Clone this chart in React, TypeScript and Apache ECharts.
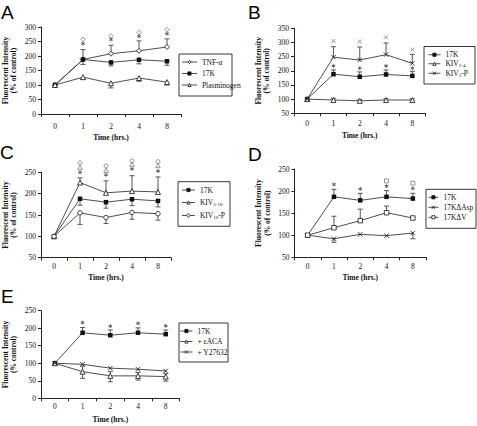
import React, { useEffect, useRef } from 'react';
import * as echarts from 'echarts';

type Num = number | null;

const hours = ['0', '1', '2', '4', '8'];

// Panel A
const aTNF = [100, 188, 208, 218, 231];
const aTNFHi: Num[] = [null, 222, 237, 252, 259];
const a17K = [100, 188, 178, 187, 182];
const a17KLo: Num[] = [null, 171, 166, 173, 168];
const aPlg = [100, 127, 106, 124, 110];
const aPlgLo: Num[] = [null, 120, 90, 113, 100];
const aSigDiamond: Num[] = [null, 258, 269, 281, 291];
const aSigStar: Num[] = [null, 243, 257, 268, 277];

// Panel B
const b17K = [100, 188, 179, 187, 182];
const b17KHi: Num[] = [null, 203, 196, 203, 198];
const bKIV14 = [100, 97, 94, 97, 97];
const bKIV14Hi: Num[] = [null, 103, 98, 101, 101];
const bKIV5P = [100, 248, 238, 257, 226];
const bKIV5PHi: Num[] = [null, 285, 284, 298, 258];
const bSigX: Num[] = [null, 305, 303, 318, 275];
const bSigStar: Num[] = [null, 217, 209, 217, 209];

// Panel C
const c17K = [100, 188, 180, 187, 183];
const c17KLo: Num[] = [null, 173, 166, 172, 169];
const cKIV510 = [100, 226, 202, 206, 204];
const cKIV510Hi: Num[] = [null, 237, 230, 242, 239];
const cKIV10P = [100, 155, 144, 156, 153];
const cKIV10PLo: Num[] = [null, 128, 130, 140, 138];
const cSigCircle: Num[] = [null, 272, 265, 277, 275];
const cSigTri: Num[] = [null, 262, 255, 269, 266];
const cSigStar: Num[] = [null, 250, 244, 258, 253];

// Panel D
const d17K = [100, 187, 179, 187, 183];
const d17KHi: Num[] = [null, 204, 195, 201, 195];
const dAsp = [100, 92, 102, 99, 105];
const dAspLo: Num[] = [null, 84, null, null, 92];
const dV = [100, 117, 133, 151, 139];
const dVHi: Num[] = [null, 143, 159, 166, null];
const dSigStar: Num[] = [null, 215, 205, 211, 206];
const dSigSquare: Num[] = [null, null, null, 223, 218];

// Panel E
const e17K = [100, 187, 180, 187, 183];
const e17KHi: Num[] = [null, 202, 195, 201, 195];
const eACA = [100, 76, 64, 64, 62];
const eACAHi: Num[] = [null, 92, 76, 74, 70];
const eACALo: Num[] = [null, 57, 47, 52, 49];
const eY = [100, 97, 86, 83, 78];
const eSigStar: Num[] = [null, 216, 206, 214, 207];

const SERIF = '"Liberation Serif", "Times New Roman", serif';
const SANS = '"Liberation Sans", Arial, sans-serif';
const INK = '#111';
const LINE = '#3a3a3a';

const STAR = 'path://M4,0H6V3.3L8.9,1.6 9.9,3.3 7,5 9.9,6.7 8.9,8.4 6,6.7V10H4V6.7L1.1,8.4 0.1,6.7 3,5 0.1,3.3 1.1,1.6 4,3.3Z';
const CROSS = 'path://M0,0L10,10M10,0L0,10';

type Mark = { symbol: string; size: number; filled: boolean };
const M: Record<string, Mark> = {
  fsq: { symbol: 'rect', size: 4.5, filled: true },
  tri: { symbol: 'triangle', size: 5, filled: false },
  dia: { symbol: 'diamond', size: 5, filled: false },
  cir: { symbol: 'circle', size: 4.5, filled: false },
  sq: { symbol: 'rect', size: 4.5, filled: false },
  x: { symbol: CROSS, size: 4.5, filled: false },
  star: { symbol: STAR, size: 4.5, filled: true },
};

const pts = (vals: Num[]) =>
  vals.map((v, i) => (v == null ? null : [i, v])).filter((d) => d !== null);
const errPts = (center: number[], ends: Num[]) =>
  ends.map((e, i) => (e == null ? null : [i, center[i], e])).filter((d) => d !== null);

const markStyle = (m: Mark) => ({
  color: m.filled ? INK : '#fff',
  borderColor: INK,
  borderWidth: m.filled ? 0 : 0.8,
});

const lineS = (idx: number, name: string, data: number[], m: Mark) => ({
  type: 'line',
  name,
  xAxisIndex: idx,
  yAxisIndex: idx,
  data,
  symbol: m.symbol,
  symbolSize: m.size,
  showAllSymbol: true,
  z: 3,
  lineStyle: { color: LINE, width: 0.9 },
  itemStyle: markStyle(m),
  emphasis: { disabled: true },
});

const sigS = (idx: number, vals: Num[], m: Mark) => ({
  type: 'scatter',
  name: 'sig' + idx + m.symbol,
  xAxisIndex: idx,
  yAxisIndex: idx,
  data: pts(vals),
  symbol: m.symbol,
  symbolSize: m.size - 0.5,
  clip: false,
  z: 4,
  itemStyle: { color: m.filled ? '#333' : '#fff', borderColor: '#444', borderWidth: m.filled ? 0 : 0.7 },
  emphasis: { disabled: true },
  silent: true,
});

const errS = (idx: number, center: number[], ends: Num[]) => ({
  type: 'custom',
  name: 'err' + idx,
  xAxisIndex: idx,
  yAxisIndex: idx,
  z: 2,
  clip: false,
  silent: true,
  data: errPts(center, ends),
  encode: { x: 0, y: [1, 2] },
  renderItem: (_p: any, api: any) => {
    const x = api.value(0);
    const p0 = api.coord([x, api.value(1)]);
    const p1 = api.coord([x, api.value(2)]);
    const st = { stroke: '#555', lineWidth: 1 };
    return {
      type: 'group',
      children: [
        { type: 'line', shape: { x1: p0[0], y1: p0[1], x2: p1[0], y2: p1[1] }, style: st },
        { type: 'line', shape: { x1: p1[0] - 2.5, y1: p1[1], x2: p1[0] + 2.5, y2: p1[1] }, style: st },
      ],
    };
  },
});

const RICH_NAMES: Record<string, string> = {
  'KIV1-4': '{n|KIV}{s|1-4}',
  'KIV5-P': '{n|KIV}{s|5}{n|-P}',
  'KIV5-10': '{n|KIV}{s|5-10}',
  'KIV10-P': '{n|KIV}{s|10}{n|-P}',
};

type PanelCfg = {
  grid: { left: number; top: number; width: number; height: number };
  yMin: number;
  yMax: number;
  yName: string;
  labelMargin: number;
  xNameGap: number;
  legend: { left: number; top: number; itemWidth: number; itemGap: number; names: string[] };
  box: { x: number; y: number; width: number; height: number };
};

const panels: PanelCfg[] = [
  {
    grid: { left: 40, top: 27, width: 141, height: 87 },
    yMin: 0, yMax: 300, yName: 'Fluorescent Intensity\n(% of control)', labelMargin: 8, xNameGap: 19,
    legend: { left: 181.5, top: 58, itemWidth: 15, itemGap: 3.5, names: ['TNF-α', '17K', 'Plasminogen'] },
    box: { x: 179, y: 54, width: 53, height: 42 },
  },
  {
    grid: { left: 294, top: 28.3, width: 131.5, height: 85 },
    yMin: 50, yMax: 350, yName: 'Fluorescent Intensity\n(% of control)', labelMargin: 6, xNameGap: 18,
    legend: { left: 428, top: 50.75, itemWidth: 12, itemGap: 1, names: ['17K', 'KIV1-4', 'KIV5-P'] },
    box: { x: 424, y: 46.5, width: 51, height: 37.5 },
  },
  {
    grid: { left: 40, top: 172.3, width: 131, height: 85.4 },
    yMin: 50, yMax: 250, yName: 'Fluorescent Intensity\n(% of control)', labelMargin: 5, xNameGap: 15.5,
    legend: { left: 181.5, top: 186, itemWidth: 13, itemGap: 4.5, names: ['17K', 'KIV5-10', 'KIV10-P'] },
    box: { x: 178, y: 181.7, width: 52, height: 44.6 },
  },
  {
    grid: { left: 294.5, top: 169, width: 131.5, height: 88.3 },
    yMin: 50, yMax: 250, yName: 'Fluorescent Intensity\n(% of control)', labelMargin: 5.5, xNameGap: 16,
    legend: { left: 428, top: 193.3, itemWidth: 10, itemGap: 2, names: ['17K', '17KΔAsp', '17KΔV'] },
    box: { x: 426, y: 189.3, width: 50, height: 39 },
  },
  {
    grid: { left: 40, top: 310.7, width: 139.6, height: 87.6 },
    yMin: 0, yMax: 250, yName: 'Fluorescent Intensity\n(% control)', labelMargin: 4.5, xNameGap: 17,
    legend: { left: 180, top: 327, itemWidth: 12, itemGap: 2.5, names: ['17K', '+ εACA', '+ Y27632'] },
    box: { x: 179, y: 323, width: 49, height: 39 },
  },
];

const letters = [
  { t: 'A', x: 1, y: 3 },
  { t: 'B', x: 248, y: 3 },
  { t: 'C', x: 0, y: 143 },
  { t: 'D', x: 248, y: 145 },
  { t: 'E', x: 1, y: 287 },
];

function buildOption() {
  const grid = panels.map((p) => ({ ...p.grid, containLabel: false }));
  const xAxis = panels.map((p, i) => ({
    type: 'category',
    gridIndex: i,
    data: hours,
    boundaryGap: true,
    name: 'Time (hrs.)',
    nameLocation: 'middle',
    nameGap: p.xNameGap,
    nameTextStyle: { fontFamily: SERIF, fontWeight: 'bold', fontSize: 7.5, color: INK },
    axisLine: { lineStyle: { color: '#222', width: 1 } },
    axisTick: { show: true, length: 3, alignWithLabel: false, lineStyle: { color: '#222' } },
    axisLabel: { fontFamily: SERIF, fontSize: 7.5, color: INK, margin: p.labelMargin },
    splitLine: { show: false },
  }));
  const yAxis = panels.map((p, i) => ({
    type: 'value',
    gridIndex: i,
    min: p.yMin,
    max: p.yMax,
    interval: 50,
    name: p.yName,
    nameLocation: 'middle',
    nameRotate: 90,
    nameGap: 23,
    nameTextStyle: { fontFamily: SERIF, fontWeight: 'bold', fontSize: 7.5, lineHeight: 8.5, color: INK },
    axisLine: { show: true, lineStyle: { color: '#222', width: 1 } },
    axisTick: { show: true, length: 3, lineStyle: { color: '#222' } },
    axisLabel: { fontFamily: SERIF, fontSize: 7.5, color: INK, margin: 5 },
    splitLine: { show: false },
  }));

  const series: any[] = [
    // A
    lineS(0, 'TNF-α', aTNF, M.dia),
    lineS(0, '17K', a17K, M.fsq),
    lineS(0, 'Plasminogen', aPlg, M.tri),
    errS(0, aTNF, aTNFHi),
    errS(0, a17K, a17KLo),
    errS(0, aPlg, aPlgLo),
    sigS(0, aSigDiamond, M.dia),
    sigS(0, aSigStar, M.star),
    // B
    lineS(1, '17K', b17K, M.fsq),
    lineS(1, 'KIV1-4', bKIV14, M.tri),
    lineS(1, 'KIV5-P', bKIV5P, M.x),
    errS(1, b17K, b17KHi),
    errS(1, bKIV14, bKIV14Hi),
    errS(1, bKIV5P, bKIV5PHi),
    sigS(1, bSigX, M.x),
    sigS(1, bSigStar, M.star),
    // C
    lineS(2, '17K', c17K, M.fsq),
    lineS(2, 'KIV5-10', cKIV510, M.tri),
    lineS(2, 'KIV10-P', cKIV10P, M.cir),
    errS(2, c17K, c17KLo),
    errS(2, cKIV510, cKIV510Hi),
    errS(2, cKIV10P, cKIV10PLo),
    sigS(2, cSigCircle, M.cir),
    sigS(2, cSigTri, M.tri),
    sigS(2, cSigStar, M.star),
    // D
    lineS(3, '17K', d17K, M.fsq),
    lineS(3, '17KΔAsp', dAsp, M.x),
    lineS(3, '17KΔV', dV, M.sq),
    errS(3, d17K, d17KHi),
    errS(3, dAsp, dAspLo),
    errS(3, dV, dVHi),
    sigS(3, dSigStar, M.star),
    sigS(3, dSigSquare, M.sq),
    // E
    lineS(4, '17K', e17K, M.fsq),
    lineS(4, '+ εACA', eACA, M.tri),
    lineS(4, '+ Y27632', eY, M.x),
    errS(4, e17K, e17KHi),
    errS(4, eACA, eACAHi),
    errS(4, eACA, eACALo),
    sigS(4, eSigStar, M.star),
  ];

  const legend = panels.map((p) => ({
    orient: 'vertical',
    left: p.legend.left,
    top: p.legend.top,
    padding: 0,
    itemWidth: p.legend.itemWidth,
    itemHeight: 4,
    itemGap: p.legend.itemGap,
    selectedMode: false,
    data: p.legend.names,
    itemStyle: { borderWidth: 0.8 },
    lineStyle: { width: 0.9, color: LINE },
    formatter: (name: string) => RICH_NAMES[name] || '{n|' + name + '}',
    textStyle: {
      fontFamily: SERIF,
      fontSize: 7.5,
      color: INK,
      rich: {
        n: { fontFamily: SERIF, fontSize: 7.5, lineHeight: 9, color: INK },
        s: { fontFamily: SERIF, fontSize: 5, lineHeight: 9, color: INK, verticalAlign: 'bottom' },
      },
    },
  }));

  const graphic: any[] = [
    ...panels.map((p) => ({
      type: 'rect',
      shape: { x: p.box.x, y: p.box.y, width: p.box.width, height: p.box.height },
      style: { fill: 'none', stroke: '#222', lineWidth: 0.9 },
      silent: true,
    })),
    ...letters.map((l) => ({
      type: 'text',
      x: l.x,
      y: l.y,
      style: { text: l.t, font: '19px ' + SANS, fill: '#000', textVerticalAlign: 'top' },
      silent: true,
    })),
  ];

  return {
    animation: false,
    backgroundColor: '#fff',
    grid,
    xAxis,
    yAxis,
    series,
    legend,
    graphic,
  };
}

export default function App() {
  const ref = useRef<HTMLDivElement>(null);
  useEffect(() => {
    if (!ref.current) return;
    const chart = echarts.init(ref.current, null, { renderer: 'svg' });
    chart.setOption(buildOption() as any);
    return () => chart.dispose();
  }, []);
  return (
    <div
      ref={ref}
      style={{ position: 'fixed', left: 0, top: 0, width: 477, height: 426, background: '#fff' }}
    />
  );
}
